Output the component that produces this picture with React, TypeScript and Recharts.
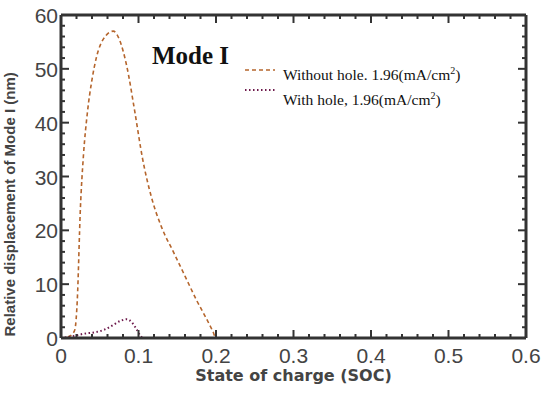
import React from "react";
import { LineChart, Line, XAxis, YAxis } from "recharts";

// ---- data ----
const withoutHoleSoc = [0, 0.01, 0.015, 0.018, 0.021, 0.025, 0.029, 0.034, 0.04, 0.046, 0.055, 0.0675, 0.076, 0.085, 0.0955, 0.105, 0.117, 0.13, 0.145, 0.16, 0.175, 0.188, 0.196, 0.2, 0.57];
const withoutHoleVal = [0, 0.3, 0.8, 1.6, 7, 24, 34, 41.8, 48, 52.3, 55.6, 57, 55.2, 50.4, 41.8, 33.5, 26, 20.5, 16, 11.5, 7, 3.5, 1.2, 0, 0];

const withHoleSoc = [0, 0.01, 0.02, 0.03, 0.045, 0.055, 0.067, 0.077, 0.085, 0.092, 0.098, 0.103, 0.106, 0.57];
const withHoleVal = [0, 0.2, 0.5, 0.8, 1.1, 1.5, 2.4, 3.2, 3.5, 2.8, 1.5, 0.3, 0, 0];

const baselineSoc = [0, 0.57];
const baselineVal = [0, 0];

const xTicks = [0, 0.02, 0.04, 0.06, 0.08, 0.1, 0.12, 0.14, 0.16, 0.18, 0.2, 0.22, 0.24, 0.26, 0.28, 0.3, 0.32, 0.34, 0.36, 0.38, 0.4, 0.42, 0.44, 0.46, 0.48, 0.5, 0.52, 0.54, 0.56, 0.58, 0.6];
const xMajorLabels: Record<string, string> = { "0": "0", "0.1": "0.1", "0.2": "0.2", "0.3": "0.3", "0.4": "0.4", "0.5": "0.5", "0.6": "0.6" };
const yTicks = [0, 2, 4, 6, 8, 10, 12, 14, 16, 18, 20, 22, 24, 26, 28, 30, 32, 34, 36, 38, 40, 42, 44, 46, 48, 50, 52, 54, 56, 58, 60];
const yMajorLabels: Record<string, string> = { "0": "0", "10": "10", "20": "20", "30": "30", "40": "40", "50": "50", "60": "60" };

const seriesNames = ["Without hole. 1.96(mA/cm", "With hole, 1.96(mA/cm"];
const titleText = "Mode I";
const xLabel = "State of charge (SOC)";
const yLabel = "Relative displacement of Mode I (nm)";

const toRows = (xs: number[], ys: number[]) => xs.map((x, i) => ({ soc: x, v: ys[i] }));
const withoutHoleData = toRows(withoutHoleSoc, withoutHoleVal);
const withHoleData = toRows(withHoleSoc, withHoleVal);
const baselineData = toRows(baselineSoc, baselineVal);

const AX = "#333333";
const RED = "#b5652c";
const PURPLE = "#6e1a4c";

const isMajorX = (v: number) => Math.abs(v * 10 - Math.round(v * 10)) < 1e-6;
const isMajorY = (v: number) => Math.abs(v / 10 - Math.round(v / 10)) < 1e-6;
const fmt = (v: number) => String(Math.round(v * 1000) / 1000);

const BottomTick = (p: any) => {
  const v = p.payload.value;
  const major = isMajorX(v);
  const len = major ? 8 : 4;
  return (
    <g>
      <line x1={p.x} x2={p.x} y1={p.y} y2={p.y - len} stroke={AX} strokeWidth={2} />
      {major && (
        <text x={p.x} y={p.y + 25} textAnchor="middle" fontSize={21} fill="#444" fontFamily="Liberation Sans, Arial, sans-serif">
          {xMajorLabels[fmt(v)]}
        </text>
      )}
    </g>
  );
};
const TopTick = (p: any) => {
  const v = p.payload.value;
  const len = isMajorX(v) ? 8 : 4;
  return <line x1={p.x} x2={p.x} y1={p.y} y2={p.y + len} stroke={AX} strokeWidth={2} />;
};
const LeftTick = (p: any) => {
  const v = p.payload.value;
  const major = isMajorY(v);
  const len = major ? 8 : 4;
  return (
    <g>
      <line x1={p.x} x2={p.x + len} y1={p.y} y2={p.y} stroke={AX} strokeWidth={2} />
      {major && (
        <text x={p.x - 3} y={p.y + 8} textAnchor="end" fontSize={21} fill="#444" fontFamily="Liberation Sans, Arial, sans-serif">
          {yMajorLabels[fmt(v)]}
        </text>
      )}
    </g>
  );
};
const RightTick = (p: any) => {
  const v = p.payload.value;
  const len = isMajorY(v) ? 8 : 4;
  return <line x1={p.x} x2={p.x - len} y1={p.y} y2={p.y} stroke={AX} strokeWidth={2} />;
};

export default function App() {
  return (
    <div style={{ position: "absolute", left: 0, top: 0, width: 550, height: 393, background: "#fff" }}>
      <LineChart width={550} height={393} margin={{ top: 14, right: 23, left: 0, bottom: 0 }}>
        <XAxis
          xAxisId="b"
          type="number"
          dataKey="soc"
          domain={[0, 0.6]}
          ticks={xTicks}
          interval={0}
          allowDataOverflow
          height={55}
          tickSize={0}
          tickMargin={0}
          tickLine={false}
          axisLine={{ stroke: AX, strokeWidth: 3 }}
          tick={BottomTick}
          label={{ value: xLabel, position: "insideBottom", offset: 12, fontSize: 16, fontWeight: "bold", fill: "#444", fontFamily: "DejaVu Sans, sans-serif" }}
        />
        <XAxis
          xAxisId="t"
          orientation="top"
          type="number"
          dataKey="soc"
          domain={[0, 0.6]}
          ticks={xTicks}
          interval={0}
          allowDataOverflow
          height={1}
          tickSize={0}
          tickMargin={0}
          tickLine={false}
          axisLine={{ stroke: AX, strokeWidth: 3 }}
          tick={TopTick}
        />
        <YAxis
          yAxisId="l"
          type="number"
          domain={[0, 60]}
          ticks={yTicks}
          interval={0}
          allowDataOverflow
          width={61}
          tickSize={0}
          tickMargin={0}
          tickLine={false}
          axisLine={{ stroke: AX, strokeWidth: 3 }}
          tick={LeftTick}
          label={{ value: yLabel, angle: -90, position: "insideLeft", offset: 10, dy: 160, fontSize: 15, fontWeight: "bold", fill: "#444", fontFamily: "Liberation Sans, Arial, sans-serif" }}
        />
        <YAxis
          yAxisId="r"
          orientation="right"
          type="number"
          domain={[0, 60]}
          ticks={yTicks}
          interval={0}
          allowDataOverflow
          width={1}
          tickSize={0}
          tickMargin={0}
          tickLine={false}
          axisLine={{ stroke: AX, strokeWidth: 3 }}
          tick={RightTick}
        />
        <Line xAxisId="t" yAxisId="r" data={baselineData} dataKey="v" stroke="none" dot={false} isAnimationActive={false} legendType="none" />
        <Line xAxisId="b" yAxisId="l" data={baselineData} dataKey="v" stroke="#7a2440" strokeWidth={1.5} dot={false} isAnimationActive={false} />
        <Line xAxisId="b" yAxisId="l" data={withoutHoleData} dataKey="v" type="monotone" stroke={RED} strokeWidth={1.6} strokeDasharray="4 3" dot={false} isAnimationActive={false} />
        <Line xAxisId="b" yAxisId="l" data={withHoleData} dataKey="v" type="monotone" stroke={PURPLE} strokeWidth={2} strokeDasharray="1.5 2.5" dot={false} isAnimationActive={false} />
      </LineChart>
      <div style={{ position: "absolute", left: 152, top: 42, fontFamily: "Liberation Serif, serif", fontWeight: "bold", fontSize: 25, color: "#111", whiteSpace: "nowrap", lineHeight: "28px" }}>
        {titleText}
      </div>
      <svg style={{ position: "absolute", left: 244, top: 62 }} width={34} height={34}>
        <line x1={1} x2={31} y1={8} y2={8} stroke={RED} strokeWidth={1.6} strokeDasharray="4 3" />
        <line x1={1} x2={31} y1={28} y2={28} stroke={PURPLE} strokeWidth={2} strokeDasharray="1.5 2.5" />
      </svg>
      <div style={{ position: "absolute", left: 283, top: 61, fontFamily: "Liberation Serif, serif", fontSize: 15.5, color: "#111", whiteSpace: "nowrap", lineHeight: "20px" }}>
        <div>{seriesNames[0]}<sup style={{ fontSize: 10 }}>2</sup>)</div>
        <div style={{ marginTop: 1 }}>{seriesNames[1]}<sup style={{ fontSize: 10 }}>2</sup>)</div>
      </div>
    </div>
  );
}
